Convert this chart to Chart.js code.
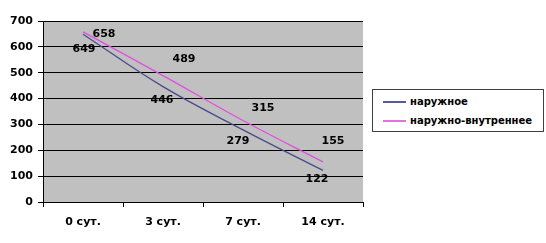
<!DOCTYPE html>
<html>
<head>
<meta charset="utf-8">
<script src="https://cdn.jsdelivr.net/npm/chart.js@4"></script>
<style>
  body { margin: 0; background: #fff; }
  #wrap { position: relative; width: 546px; height: 243px; }
  #legend {
    position: absolute; left: 372px; top: 89px; width: 170px; height: 41px;
    border: 1px solid #404040; background: #fff;
    font: bold 10px "DejaVu Sans", sans-serif; color: #000;
  }
  .item { position: absolute; left: 10px; height: 14px; line-height: 14px; white-space: nowrap; }
  .item span.ln { display: inline-block; width: 23px; height: 2px; vertical-align: middle; margin-right: 4px; }
</style>
</head>
<body>
<div id="wrap">
  <canvas id="c" width="546" height="243"></canvas>
  <div id="legend">
    <div class="item" style="top:5px"><span class="ln" style="background:#5a5a96"></span>наружное</div>
    <div class="item" style="top:24px"><span class="ln" style="background:#e66ee6"></span>наружно-внутреннее</div>
  </div>
</div>
<script>
//Categories and series values.
const categories = ['0 сут.', '3 сут.', '7 сут.', '14 сут.'];
const outerValues = [649, 446, 279, 122];
const outerInnerValues = [658, 489, 315, 155];
const seriesNames = ['наружное', 'наружно-внутреннее'];

//Where each value label sits relative to its point (px).
const labelShift = [
    [[1, 15], [-1, 13], [-5, 11], [-6, 9]],
    [[21, 2], [21, -16], [20, -12], [10, -21]]
];

const font = { family: 'DejaVu Sans', size: 11, weight: 'bold' };

//Grey plot background.
const plotBg = {
    id: 'plotBg',
    beforeDraw(chart) {
        const a = chart.chartArea;
        const ctx = chart.ctx;
        ctx.save();
        ctx.fillStyle = '#c0c0c0';
        ctx.fillRect(a.left, a.top, a.right - a.left, a.bottom - a.top);
        ctx.restore();
    }
};

//Value labels next to the points.
const valueLabels = {
    id: 'valueLabels',
    afterDatasetsDraw(chart) {
        const ctx = chart.ctx;
        ctx.save();
        ctx.font = 'bold 11px "DejaVu Sans"';
        ctx.fillStyle = '#000';
        ctx.textAlign = 'center';
        ctx.textBaseline = 'middle';
        chart.data.datasets.forEach((ds, d) => {
            chart.getDatasetMeta(d).data.forEach((pt, i) => {
                const s = labelShift[d][i];
                ctx.fillText(ds.data[i], pt.x + s[0], pt.y + s[1]);
            });
        });
        ctx.restore();
    }
};

new Chart(document.getElementById('c'), {
    type: 'line',
    data: {
        labels: categories,
        datasets: [{
            label: seriesNames[0],
            data: outerValues,
            borderColor: '#4a4a8c',
            borderWidth: 1.3,
            pointRadius: 0,
            tension: 0.4
        }, {
            label: seriesNames[1],
            data: outerInnerValues,
            borderColor: '#e050e0',
            borderWidth: 1.3,
            pointRadius: 0,
            tension: 0.4
        }]
    },
    options: {
        responsive: false,
        animation: false,
        layout: { padding: { left: 0, right: 183, top: 21, bottom: 0 } },
        plugins: { legend: { display: false }, tooltip: { enabled: false } },
        scales: {
            x: {
                offset: true,
                afterFit: s => { s.height = 41; },
                grid: { drawOnChartArea: false, color: '#000', tickLength: 5, offset: true },
                border: { color: '#000' },
                ticks: { color: '#000', font: font, padding: 9 }
            },
            y: {
                min: 0,
                max: 700,
                afterFit: s => { s.width = 43; },
                grid: { color: '#000', tickLength: 5 },
                border: { color: '#000' },
                ticks: { stepSize: 100, color: '#000', font: font, padding: 5 }
            }
        }
    },
    plugins: [plotBg, valueLabels]
});
</script>
</body>
</html>
